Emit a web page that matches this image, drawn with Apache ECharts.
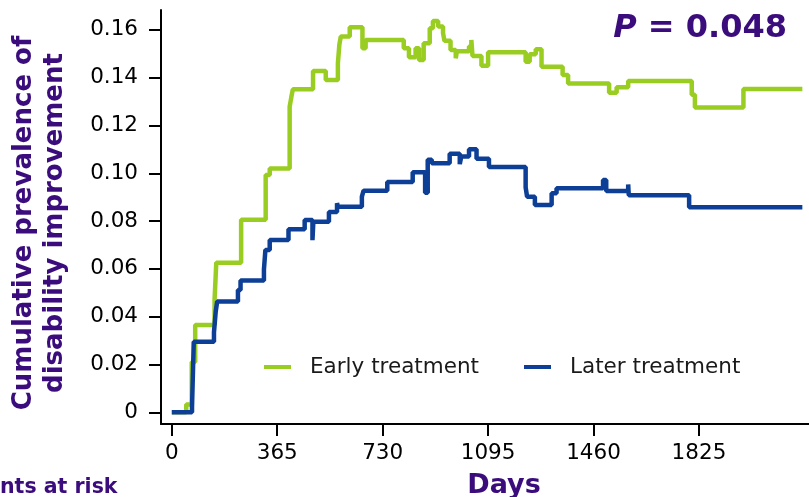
<!DOCTYPE html>
<html>
<head>
<meta charset="utf-8">
<script src="https://cdn.jsdelivr.net/npm/echarts@6/dist/echarts.min.js"></script>
<style>
  html, body { margin: 0; padding: 0; background: #fff; }
  #chart { width: 809px; height: 497px; }
</style>
</head>
<body>
<div id="chart"></div>
<script>
// tick labels
var xTicks = [0, 365, 730, 1095, 1460, 1825];
var yTicks = [0, 0.02, 0.04, 0.06, 0.08, 0.10, 0.12, 0.14, 0.16];

// early treatment (step points: day, cumulative prevalence)
var earlyDays = [0, 50, 69, 81, 148, 154, 240, 325, 339, 408, 414, 419, 489, 533, 575, 580, 585, 616, 660, 671,
  803, 821, 844, 856, 872, 893, 904, 922, 939, 944, 965, 983, 987, 1029, 1037, 1041, 1072, 1095,
  1225, 1239, 1260, 1280, 1353, 1372, 1514, 1540, 1580, 1800, 1811, 1979, 2183];
var earlyValues = [0, 0.0033, 0.021, 0.0365, 0.047, 0.0626, 0.0805, 0.0993, 0.102, 0.1279, 0.132, 0.1351, 0.1428, 0.139, 0.146, 0.1537, 0.1572, 0.1611, 0.1523, 0.1558,
  0.1523, 0.1485, 0.1523, 0.1474, 0.1544, 0.1607, 0.1637, 0.1614, 0.1586, 0.1554, 0.1516, 0.1481, 0.151, 0.153, 0.1558, 0.1491, 0.145, 0.1506,
  0.1467, 0.1498, 0.1519, 0.1446, 0.1411, 0.1376, 0.1337, 0.136, 0.1386, 0.1328, 0.1275, 0.1353, 0.1353];

// later treatment
var laterDays = [0, 70, 76, 146, 152, 157, 229, 238, 319, 324, 339, 404, 460, 487, 490, 544, 572, 575, 658, 664,
  746, 834, 877, 883, 886, 900, 962, 997, 1002, 1029, 1055, 1098, 1225, 1230, 1257, 1315, 1332,
  1493, 1504, 1580, 1582, 1791, 2183];
var laterValues = [0, 0.0023, 0.0295, 0.0335, 0.0421, 0.0463, 0.0512, 0.0551, 0.0598, 0.0679, 0.0721, 0.0766, 0.0804, 0.072, 0.0797, 0.0838, 0.0875, 0.086, 0.0902, 0.0927,
  0.0963, 0.1004, 0.0918, 0.0918, 0.1056, 0.1042, 0.1082, 0.1038, 0.107, 0.11, 0.1061, 0.1026, 0.0941, 0.0902, 0.0867, 0.0916, 0.0937,
  0.0972, 0.0926, 0.0953, 0.0908, 0.0858, 0.0858];

var purple = '#3b0c7c';
var green = '#9acd22';
var blue = '#0c3f95';
var font = 'DejaVu Sans';

function pairs(days, vals) {
  return days.map(function (d, i) { return [d, vals[i]]; });
}

var myChart = echarts.init(document.getElementById('chart'));
myChart.setOption({
  animation: false,
  textStyle: { fontFamily: font },
  grid: { left: 161, right: 0, top: 10, bottom: 73, outerBoundsMode: 'none' },
  legend: {
    left: 264, top: 356, padding: 0,
    itemWidth: 27, itemHeight: 4, itemGap: 45,
    icon: 'rect',
    textStyle: { fontSize: 21.5, color: '#1a1a1a', fontFamily: font, padding: [0, 0, 0, 14] },
    data: ['Early treatment', 'Later treatment']
  },
  xAxis: {
    type: 'value', min: -37.4, max: 2206,
    axisLine: { show: true, onZero: false, lineStyle: { color: '#000', width: 2 } },
    axisTick: { show: true, length: 12, lineStyle: { color: '#000', width: 2 }, customValues: xTicks },
    axisLabel: {
      fontSize: 21.5, color: '#000', margin: 18, customValues: xTicks,
      formatter: function (v) { return String(v); }
    },
    splitLine: { show: false }
  },
  yAxis: {
    type: 'value', min: -0.0049, max: 0.1683,
    axisLine: { show: true, onZero: false, lineStyle: { color: '#000', width: 2 } },
    axisTick: { show: true, length: 12, lineStyle: { color: '#000', width: 2 }, customValues: yTicks },
    axisLabel: {
      fontSize: 21.5, color: '#000', margin: 23, customValues: yTicks,
      formatter: function (v) { return v === 0 ? '0' : v.toFixed(2); }
    },
    splitLine: { show: false }
  },
  graphic: [
    {
      type: 'text', x: 40, y: 223, rotation: Math.PI / 2,
      style: {
        text: 'Cumulative prevalence of\ndisability improvement',
        font: 'bold 26px "DejaVu Sans"', fill: purple,
        textAlign: 'center', textVerticalAlign: 'middle', lineHeight: 31
      }
    },
    {
      type: 'text', x: 787, y: 29,
      style: {
        text: '{p|P}{r| = 0.048}',
        textAlign: 'right', textVerticalAlign: 'middle',
        rich: {
          p: { font: 'italic bold 32px "DejaVu Sans"', fill: purple },
          r: { font: 'bold 32px "DejaVu Sans"', fill: purple }
        }
      }
    },
    {
      type: 'text', x: 504, y: 486,
      style: { text: 'Days', font: 'bold 27px "DejaVu Sans"', fill: purple, textAlign: 'center', textVerticalAlign: 'middle' }
    },
    {
      type: 'text', x: 0, y: 488,
      style: { text: 'nts at risk', font: 'bold 20.5px "DejaVu Sans"', fill: purple, textAlign: 'left', textVerticalAlign: 'middle' }
    }
  ],
  series: [
    {
      name: 'Early treatment', type: 'line', step: 'end', showSymbol: false,
      color: green, lineStyle: { color: green, width: 4.5 },
      data: pairs(earlyDays, earlyValues)
    },
    {
      name: 'Later treatment', type: 'line', step: 'end', showSymbol: false,
      color: blue, lineStyle: { color: blue, width: 4.5 },
      data: pairs(laterDays, laterValues)
    }
  ]
});
</script>
</body>
</html>
